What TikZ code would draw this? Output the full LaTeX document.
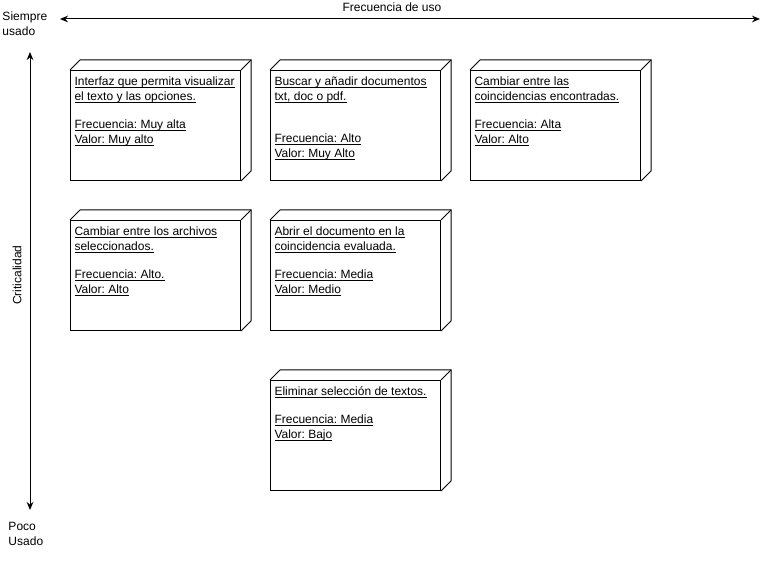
\documentclass[tikz,border=0pt]{standalone}
\usepackage{fontspec}
\setmainfont{Liberation Sans}
\usetikzlibrary{arrows.meta,calc}
\frenchspacing
\newcommand{\ulin}[1]{\setbox0\hbox{#1}\rlap{\rule[-1.3pt]{\wd0}{0.6pt}}\box0}
\begin{document}
\begin{tikzpicture}[x=0.75pt,y=-0.75pt,line width=0.75pt,
		box/.style={draw, minimum width=127.5pt, minimum height=82.5pt, inner sep=0pt, anchor=north west},
		txt/.style={anchor=north west, align=left, inner sep=0pt, font=\fontsize{9}{11.25}\selectfont},
		lbl/.style={inner sep=0pt, font=\fontsize{9}{11.25}\selectfont}]
		\useasboundingbox (0,0) rectangle (769,563);

		% Axes
		\coordinate (fl) at (60,19);
		\coordinate (fr) at (760,19);
		\coordinate (ct) at (30,52);
		\coordinate (cb) at (30,510);
		\draw[{Stealth[length=6pt,width=5pt]}-{Stealth[length=6pt,width=5pt]}] (fl) -- (fr);
		\draw[{Stealth[length=6pt,width=5pt]}-{Stealth[length=6pt,width=5pt]}] (ct) -- (cb);
		\node[lbl] (frec) at (392,7) {Frecuencia de uso};
		\node[lbl, align=left, anchor=west] (siempre) at (2,23.5) {Siempre\\usado};
		\node[lbl, align=left, anchor=west] (poco) at (8,534) {Poco\\Usado};
		\node[lbl, rotate=90] (crit) at (17,275) {Criticalidad};

		% Boxes
		\node[box] (b1) at (70,70) {};
		\node[box] (b2) at (270,70) {};
		\node[box] (b3) at (470,70) {};
		\node[box] (b4) at (70,220) {};
		\node[box] (b5) at (270,220) {};
		\node[box] (b6) at (270,380) {};
		\foreach \n in {b1,b2,b3,b4,b5,b6}{
			\draw (\n.north west) -- ++(10,-10) -| ($(\n.south east)+(10,-10)$) -- (\n.south east);
			\draw (\n.north east) -- ++(10,-10);
		}

		% Texts
		\node[txt] (t1) at (74,76.5) {\ulin{Interfaz que permita visualizar}\\\ulin{el texto y las opciones.}\\[9.75pt]\ulin{Frecuencia: Muy alta}\\\ulin{Valor: Muy alto}};
		\node[txt] (t2) at (274,76.5) {\ulin{Buscar y añadir documentos}\\\ulin{txt, doc o pdf.}\\[20.25pt]\ulin{Frecuencia: Alto}\\\ulin{Valor: Muy Alto}};
		\node[txt] (t3) at (474,76.5) {\ulin{Cambiar entre las}\\\ulin{coincidencias encontradas.}\\[9.75pt]\ulin{Frecuencia: Alta}\\\ulin{Valor: Alto}};
		\node[txt] (t4) at (74,226.5) {\ulin{Cambiar entre los archivos}\\\ulin{seleccionados.}\\[9.75pt]\ulin{Frecuencia: Alto.}\\\ulin{Valor: Alto}};
		\node[txt] (t5) at (274,226.5) {\ulin{Abrir el documento en la}\\\ulin{coincidencia evaluada.}\\[9.75pt]\ulin{Frecuencia: Media}\\\ulin{Valor: Medio}};
		\node[txt] (t6) at (274,386.5) {\ulin{Eliminar selección de textos.}\\[9.75pt]\ulin{Frecuencia: Media}\\\ulin{Valor: Bajo}};
	\end{tikzpicture}
\end{document}
